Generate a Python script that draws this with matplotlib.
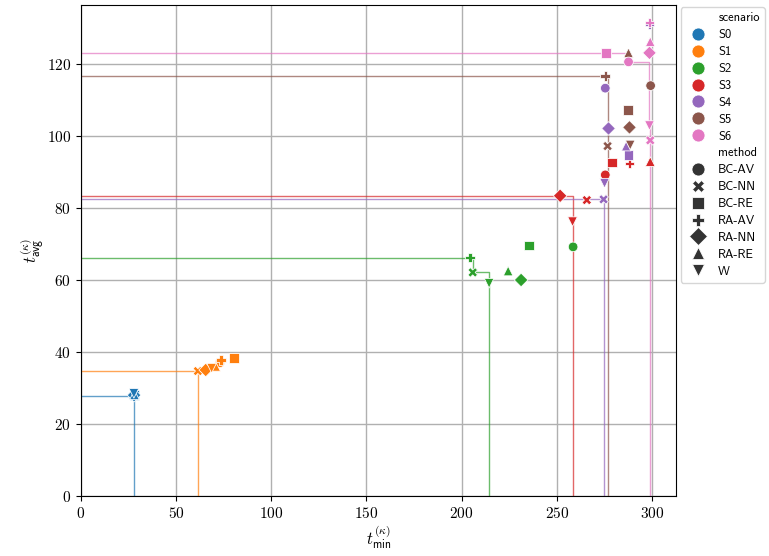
import numpy as np
import pandas as pd
import matplotlib
matplotlib.use('Agg')
import matplotlib.pyplot as plt
from matplotlib.ticker import FuncFormatter
import seaborn as sns

plt.rcParams['mathtext.fontset'] = 'cm'

scenarios = ['S0', 'S1', 'S2', 'S3', 'S4', 'S5', 'S6']
methods = ['BC-AV', 'BC-NN', 'BC-RE', 'RA-AV', 'RA-NN', 'RA-RE', 'W']
markers = ['o', 'X', 's', 'P', 'D', '^', 'v']

# t_min per scenario, in the order of methods
t_min = {
    'S0': [28.3, 27.8, 28.2, 27.6, 28.0, 28.2, 27.9],
    'S1': [73.0, 61.5, 80.5, 73.6, 65.6, 70.8, 68.7],
    'S2': [258.5, 205.8, 235.2, 204.4, 231.2, 224.4, 214.4],
    'S3': [275.4, 265.7, 278.8, 288.1, 251.7, 299.0, 258.2],
    'S4': [275.4, 274.5, 287.6, 298.6, 277.1, 286.4, 275.0],
    'S5': [299.2, 276.6, 287.4, 275.4, 288.1, 287.6, 288.5],
    'S6': [287.6, 299.0, 275.9, 298.6, 298.6, 299.0, 298.6],
}
# t_avg per scenario, in the order of methods
t_avg = {
    'S0': [27.9, 27.8, 28.0, 27.9, 28.0, 28.1, 28.5],
    'S1': [37.0, 34.7, 38.3, 37.8, 35.0, 36.0, 35.5],
    'S2': [69.2, 62.1, 69.6, 66.2, 60.0, 62.5, 59.1],
    'S3': [89.2, 82.2, 92.6, 92.4, 83.4, 92.9, 76.2],
    'S4': [113.3, 82.4, 94.7, 131.0, 102.1, 97.2, 86.9],
    'S5': [114.0, 97.2, 107.2, 116.7, 102.4, 123.1, 97.5],
    'S6': [120.6, 98.8, 123.1, 131.5, 123.1, 126.2, 102.9],
}

rows = []
for s in scenarios:
    for m, x, y in zip(methods, t_min[s], t_avg[s]):
        rows.append({'scenario': s, 'method': m, 't_min': x, 't_avg': y})
df = pd.DataFrame(rows)

colors = sns.color_palette('tab10', len(scenarios))

fig, ax = plt.subplots(figsize=(7.69, 5.56), dpi=100)
fig.subplots_adjust(left=0.105, right=0.879, bottom=0.108, top=0.991)

# staircase of the non dominated points of each scenario
for s, c in zip(scenarios, colors):
    pts = sorted(zip(t_min[s], t_avg[s]))
    front = []
    for x, y in pts:
        if not front or y < front[-1][1]:
            front.append((x, y))
    xs, ys = [0], [front[0][1]]
    for (x0, y0), (x1, y1) in zip(front[:-1], front[1:]):
        xs += [x1, x1]
        ys += [y0, y1]
    xs += [front[-1][0], front[-1][0]]
    ys += [front[-1][1], 0]
    ax.plot(xs, ys, color=c, lw=1, alpha=0.7, zorder=1)

sns.scatterplot(data=df, x='t_min', y='t_avg', hue='scenario', style='method',
                palette=colors, markers=dict(zip(methods, markers)),
                s=48, ax=ax, zorder=3)

ax.set_xlim(0, 312.5)
ax.set_ylim(0, 136.4)
ax.set_xticks(np.arange(0, 301, 50))
ax.set_yticks(np.arange(0, 121, 20))
fmt = FuncFormatter(lambda v, p: '$%d$' % v)
ax.xaxis.set_major_formatter(fmt)
ax.yaxis.set_major_formatter(fmt)
ax.tick_params(labelsize=11)
ax.grid(True, color='#b0b0b0', lw=1)
ax.set_axisbelow(True)
ax.set_xlabel(r'$t_{\mathsf{min}}^{(\kappa)}$', fontsize=12, labelpad=2)
ax.set_ylabel(r'$t_{\mathsf{avg}}^{(\kappa)}$', fontsize=12, labelpad=0)

sns.move_legend(ax, 'upper left', bbox_to_anchor=(1.008, 0.995),
                prop={'family': 'cmss10', 'size': 9},
                labelspacing=0.39, handletextpad=0.6, borderaxespad=0,
                markerscale=1.35)

fig.savefig('out.png', dpi=100)
